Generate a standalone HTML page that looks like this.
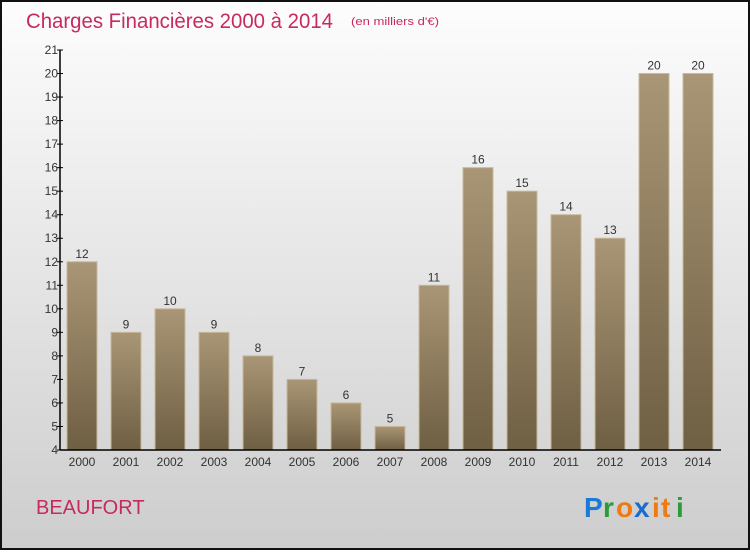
<!DOCTYPE html>
<html><head><meta charset="utf-8"><style>
html,body{margin:0;padding:0;}
body{width:750px;height:550px;overflow:hidden;font-family:"Liberation Sans",sans-serif;}
</style></head><body>
<svg id="chart" width="750" height="550" xmlns="http://www.w3.org/2000/svg">
<defs>
<linearGradient id="bg" x1="0" y1="0" x2="0" y2="1"><stop offset="0" stop-color="#fdfdfd"/><stop offset="1" stop-color="#cdcdcd"/></linearGradient>
<linearGradient id="bar" x1="0" y1="0" x2="0" y2="1"><stop offset="0" stop-color="#a99676"/><stop offset="1" stop-color="#6f5f43"/></linearGradient>
</defs>
<rect x="1" y="1" width="748" height="548" fill="url(#bg)" stroke="#111" stroke-width="2"/>
<text x="26" y="28" font-size="21" fill="#c8295e" textLength="307" lengthAdjust="spacingAndGlyphs">Charges Financières 2000 à 2014</text>
<text x="351" y="25" font-size="11" fill="#c8295e" textLength="88" lengthAdjust="spacingAndGlyphs">(en milliers d'€)</text>
<text x="36" y="514" font-size="20" fill="#c8295e">BEAUFORT</text>
<g font-size="28" font-weight="bold" font-family="Liberation Sans,sans-serif">
<text x="584" y="517" fill="#1a7ad6">P</text><text x="603" y="517" fill="#2a9a3a">r</text><text x="616" y="517" fill="#f07a10">o</text><text x="634" y="517" fill="#1a6ad0">x</text><text x="652" y="517" fill="#f07a10">i</text><text x="661" y="517" fill="#f07a10">t</text><text x="676" y="517" fill="#2a9a3a">i</text>
</g>
<g id="plot"></g>
</svg>
<script>
const categories=["2000","2001","2002","2003","2004","2005","2006","2007","2008","2009","2010","2011","2012","2013","2014"];
const values=[12,9,10,9,8,7,6,5,11,16,15,14,13,20,20];
const yTicks=[4,5,6,7,8,9,10,11,12,13,14,15,16,17,18,19,20,21];
const NS="http://www.w3.org/2000/svg";
const plotG=document.getElementById('plot');
const X0=60,Y_MIN=4,Y_MAX=21,PLOT_TOP=50,PLOT_BOT=450;
function yPos(v){return PLOT_BOT-(v-Y_MIN)/(Y_MAX-Y_MIN)*(PLOT_BOT-PLOT_TOP);}
function xc(i){return 82+i*44;}
function mk(t,a,txt){const e=document.createElementNS(NS,t);for(const k in a)e.setAttribute(k,a[k]);if(txt!==undefined)e.textContent=txt;plotG.appendChild(e);return e;}
values.forEach((v,i)=>{
 const r=mk('rect',{x:xc(i)-15,y:yPos(v),width:30,height:PLOT_BOT-yPos(v),fill:'url(#bar)',stroke:'#c8b89a','stroke-width':1});
 
 
 const t=mk('text',{x:xc(i),y:yPos(v)-4,'font-size':12,fill:'#333','text-anchor':'middle'},String(v));
 
 
 const c=mk('text',{x:xc(i),y:PLOT_BOT+16,'font-size':12,fill:'#333','text-anchor':'middle'},categories[i]);
 
 
});
yTicks.forEach(v=>{
 const l=mk('line',{x1:X0-3,x2:X0+3,y1:yPos(v),y2:yPos(v),stroke:'#000'});
 
 
 const t=mk('text',{x:X0-2,y:yPos(v)+4,'font-size':12,fill:'#333','text-anchor':'end'},String(v));
 
 
});
const ya=mk('line',{x1:X0,x2:X0,y1:PLOT_TOP,y2:PLOT_BOT,stroke:'#000','stroke-width':1.5});


const xa=mk('line',{x1:X0,x2:721,y1:PLOT_BOT,y2:PLOT_BOT,stroke:'#000','stroke-width':1.5});


</script>
</body></html>
